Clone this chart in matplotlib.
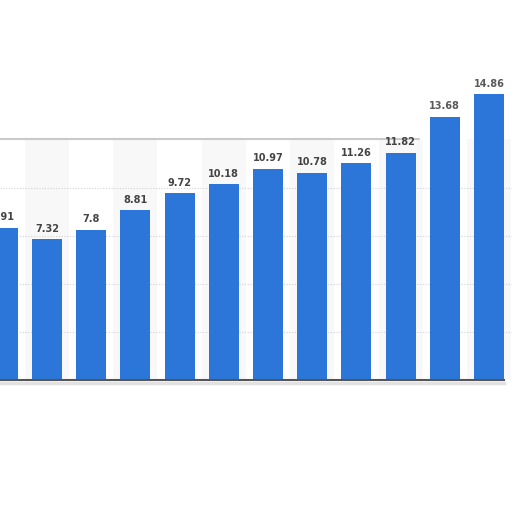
import numpy as np
import matplotlib
matplotlib.use("Agg")
import matplotlib.pyplot as plt

# values (first bar is cut off at the left edge)
values = [7.91, 7.32, 7.8, 8.81, 9.72, 10.18, 10.97, 10.78, 11.26, 11.82, 13.68, 14.86]
labels = ["7.91", "7.32", "7.8", "8.81", "9.72", "10.18", "10.97", "10.78",
          "11.26", "11.82", "13.68", "14.86"]
grid_vals = [2.5, 5, 7.5, 10]

bar_color = "#2b76d8"
x = np.arange(len(values))

fig = plt.figure(figsize=(5.12, 5.12), dpi=100)
ax = fig.add_axes([0, 0.2578, 1, 0.4699])
ax.set_xlim(-0.063, 11.52)
ax.set_ylim(0, 12.5)

# alternating light column bands
for i in x:
    if i % 2 == 1:
        ax.axvspan(i - 0.5, i + 0.5, ymax=1.0 if i < 10 else 1.0,
                   color="#f8f8f9", zorder=0, lw=0)

for g in grid_vals:
    ax.axhline(g, color="#d2d2d2", lw=0.8, ls=(0, (1, 1.5)), zorder=1)

bars = ax.bar(x, values, width=0.68, color=bar_color, zorder=3, clip_on=False)

for i, (v, t) in enumerate(zip(values, labels)):
    col = "#444444" if i < 10 else "#5a5a5a"
    ax.text(i, v + 0.28, t, ha="center", va="bottom", fontsize=7,
            fontweight="bold", color=col, clip_on=False, zorder=4)

# top frame line and baseline
ax.plot([-0.063, 9.42], [12.5, 12.5], color="#c9c9c9", lw=1.5,
        solid_capstyle="round", zorder=2, clip_on=False)
ax.plot([-0.063, 11.35], [0, 0], color="#555555", lw=1.5, zorder=5, clip_on=False)
ax.plot([-0.063, 11.35], [-0.18, -0.18], color="#e2e2e2", lw=2.5, zorder=1,
        clip_on=False)

for s in ax.spines.values():
    s.set_visible(False)
ax.set_xticks([])
ax.set_yticks([])

fig.savefig("out.png", dpi=100, facecolor="white")
